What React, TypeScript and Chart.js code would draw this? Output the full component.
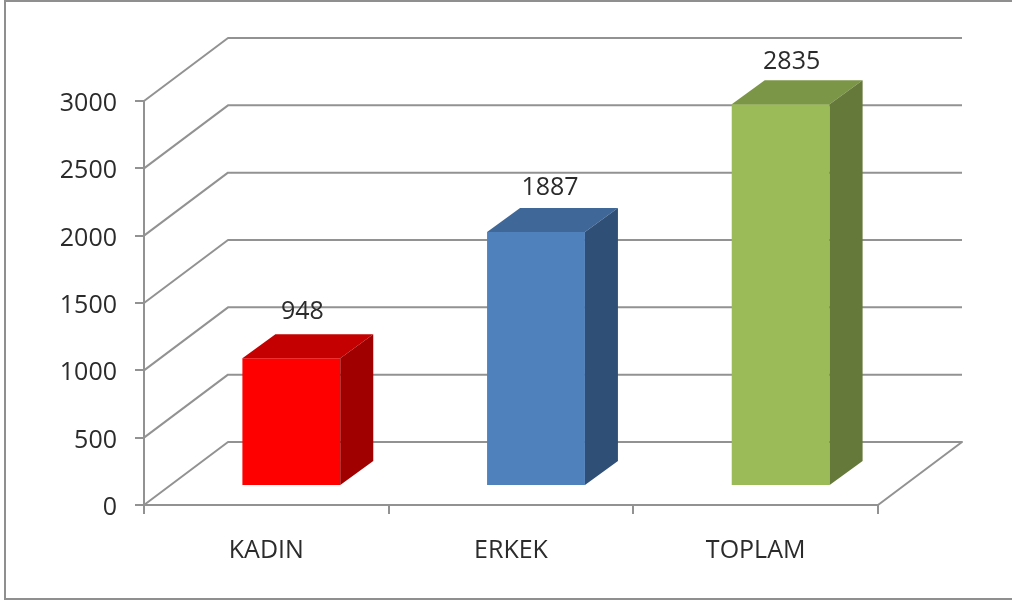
import React, { useEffect, useRef } from "react";
import { Chart, registerables } from "chart.js";

Chart.register(...registerables);

const categories = ["KADIN", "ERKEK", "TOPLAM"];
const values = [948, 1887, 2835];
const frontColors = ["#FF0000", "#4F81BD", "#9BBB59"];
const topColors = ["#C40000", "#3F6797", "#7C9647"];
const sideColors = ["#A00000", "#2F4F76", "#65793A"];

const FONT = '"Open Sans", sans-serif';
const LINE = "#929292";
const TEXT = "#2b2b2b";
const WALL_DX = 84;
const WALL_DY = 63;
const BAR_DX = 25;
const BAR_DY = 19;
const SIDE_DX = 33;
const SIDE_DY = 24;
const LABEL_DX = [11, 14, 11];
const LABEL_DY = [22, 20, 18];

const poly = (ctx: CanvasRenderingContext2D, pts: number[][], fill: string) => {
  ctx.beginPath();
  pts.forEach((p, i) => (i ? ctx.lineTo(p[0], p[1]) : ctx.moveTo(p[0], p[1])));
  ctx.closePath();
  ctx.fillStyle = fill;
  ctx.fill();
};

const box3d = {
  id: "box3d",
  beforeDraw(chart: any) {
    const { ctx } = chart;
    ctx.save();
    ctx.strokeStyle = "#8f8f8f";
    ctx.lineWidth = 2;
    ctx.beginPath();
    ctx.moveTo(1012, 1);
    ctx.lineTo(5, 1);
    ctx.lineTo(5, 599);
    ctx.lineTo(1012, 599);
    ctx.stroke();
    ctx.restore();
  },
  beforeDatasetsDraw(chart: any) {
    const { ctx, chartArea, scales } = chart;
    const { left, right } = chartArea;
    ctx.save();
    ctx.strokeStyle = LINE;
    ctx.lineWidth = 2;
    ctx.lineJoin = "round";
    scales.y.ticks.forEach((t: any) => {
      const y = scales.y.getPixelForValue(t.value);
      ctx.beginPath();
      ctx.moveTo(left, y);
      ctx.lineTo(left + WALL_DX, y - WALL_DY);
      ctx.lineTo(right + WALL_DX, y - WALL_DY);
      if (t.value === 0) ctx.lineTo(right, y);
      ctx.stroke();
    });
    ctx.restore();
    ctx.save();
    ctx.translate(BAR_DX, -BAR_DY);
  },
  afterDatasetsDraw(chart: any) {
    const { ctx } = chart;
    const meta = chart.getDatasetMeta(0);
    meta.data.forEach((bar: any, i: number) => {
      const hw = bar.width / 2;
      const l = bar.x - hw;
      const r = bar.x + hw;
      const t = bar.y;
      const b = bar.base;
      poly(ctx, [[l, t], [r, t], [r + SIDE_DX, t - SIDE_DY], [l + SIDE_DX, t - SIDE_DY]], topColors[i]);
      poly(ctx, [[r, t], [r + SIDE_DX, t - SIDE_DY], [r + SIDE_DX, b - SIDE_DY], [r, b]], sideColors[i]);
    });
    ctx.fillStyle = TEXT;
    ctx.font = `25px ${FONT}`;
    ctx.textAlign = "center";
    ctx.textBaseline = "middle";
    meta.data.forEach((bar: any, i: number) => {
      ctx.fillText(String(values[i]), bar.x + LABEL_DX[i], bar.y - SIDE_DY - LABEL_DY[i]);
    });
    ctx.restore();
  },
};

export default function App() {
  const ref = useRef<HTMLCanvasElement>(null);
  useEffect(() => {
    const chart = new Chart(ref.current as HTMLCanvasElement, {
      type: "bar",
      data: {
        labels: categories,
        datasets: [
          {
            data: values,
            backgroundColor: frontColors,
            borderWidth: 0,
            barPercentage: 0.4,
            categoryPercentage: 1,
            clip: false as any,
          },
        ],
      },
      plugins: [box3d],
      options: {
        responsive: false,
        animation: false,
        devicePixelRatio: 1,
        layout: { padding: { left: 0, top: 101, right: 134, bottom: 0 } },
        plugins: { legend: { display: false }, tooltip: { enabled: false }, title: { display: false } },
        scales: {
          x: {
            grid: { display: true, drawOnChartArea: false, drawTicks: true, tickLength: 9, color: LINE, lineWidth: 2 },
            border: { display: true, color: LINE, width: 2 },
            ticks: { color: TEXT, font: { family: FONT, size: 25 }, padding: 22, maxRotation: 0 },
            afterFit: (s: any) => { s.height = 96; },
          },
          y: {
            min: 0,
            max: 3000,
            grid: { display: true, drawOnChartArea: false, drawTicks: true, tickLength: 9, color: LINE, lineWidth: 2 },
            border: { display: true, color: LINE, width: 2 },
            ticks: {
              stepSize: 500,
              color: TEXT,
              font: { family: FONT, size: 25 },
              padding: 18,
              labelOffset: 3,
              callback: (v: any) => String(v),
            },
            afterFit: (s: any) => { s.width = 144; },
          },
        },
      },
    });
    return () => chart.destroy();
  }, []);
  return (
    <canvas
      ref={ref}
      width={1012}
      height={601}
      style={{ position: "absolute", left: 0, top: 0, display: "block", width: 1012, height: 601 }}
    />
  );
}
